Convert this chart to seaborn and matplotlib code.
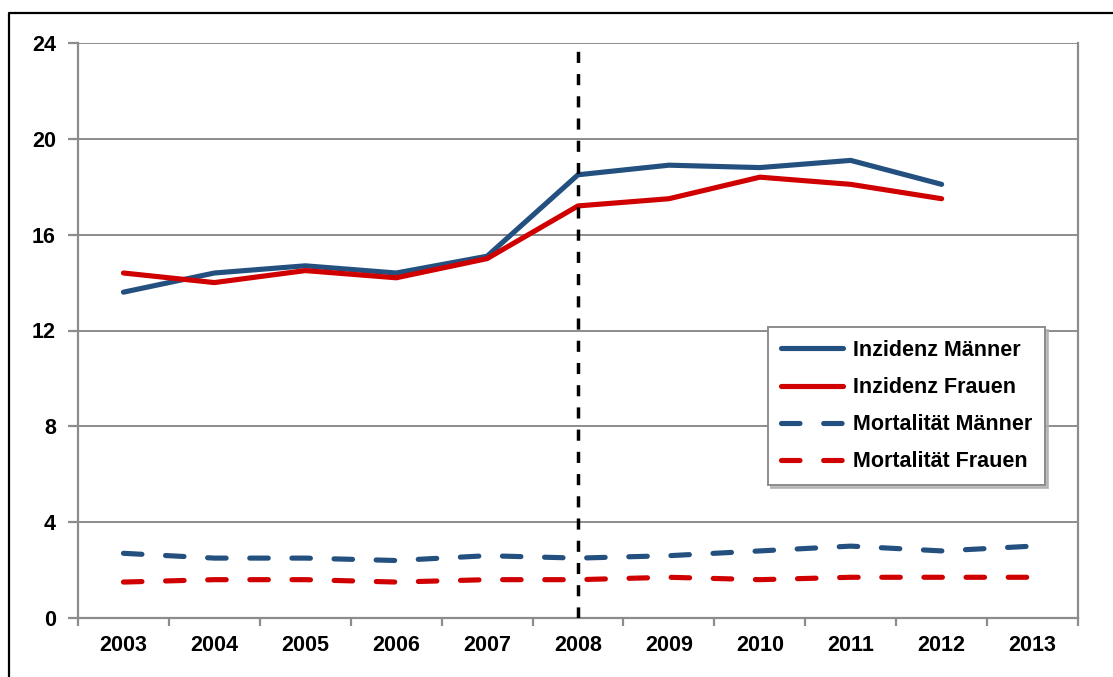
import numpy as np
import pandas as pd
import seaborn as sns
import matplotlib.pyplot as plt
from matplotlib.lines import Line2D

years = ["2003", "2004", "2005", "2006", "2007", "2008", "2009", "2010", "2011", "2012", "2013"]
inzidenz_maenner = [13.6, 14.4, 14.7, 14.4, 15.1, 18.5, 18.9, 18.8, 19.1, 18.1, np.nan]
inzidenz_frauen = [14.4, 14.0, 14.5, 14.2, 15.0, 17.2, 17.5, 18.4, 18.1, 17.5, np.nan]
mortalitaet_maenner = [2.7, 2.5, 2.5, 2.4, 2.6, 2.5, 2.6, 2.8, 3.0, 2.8, 3.0]
mortalitaet_frauen = [1.5, 1.6, 1.6, 1.5, 1.6, 1.6, 1.7, 1.6, 1.7, 1.7, 1.7]
marker_year = "2008"

blue = "#24507f"
red = "#d00000"
grey = "#8c8c8c"

sns.set_theme(style="white")
plt.rcParams["font.family"] = ["Liberation Sans", "DejaVu Sans"]

fig = plt.figure(figsize=(11.13, 6.77), dpi=100)
ax = fig.add_axes([78 / 1113, 1 - 618 / 677, 1000 / 1113, 575 / 677])

# outer chart border: only left and top edges are inside the image
bx, by = 9 / 1113, 1 - 13 / 677
fig.lines.append(Line2D([bx, bx, 1.02], [-0.02, by, by], transform=fig.transFigure,
                        color="black", linewidth=1.6))

x = np.arange(len(years))
series = [
    ("Inzidenz Männer", inzidenz_maenner, blue, "-"),
    ("Inzidenz Frauen", inzidenz_frauen, red, "-"),
    ("Mortalität Männer", mortalitaet_maenner, blue, (0, (3.6, 4.6))),
    ("Mortalität Frauen", mortalitaet_frauen, red, (0, (3.6, 4.6))),
]
for label, vals, color, ls in series:
    df = pd.DataFrame({"x": x, "y": vals}).dropna()
    sns.lineplot(data=df, x="x", y="y", ax=ax, color=color, linewidth=3.7,
                 label=label, linestyle=ls, solid_capstyle="round",
                 dash_capstyle="round", solid_joinstyle="round", zorder=3)

ax.axvline(years.index(marker_year), color="black", linewidth=2.5,
           linestyle=(0, (3.2, 3.2)), zorder=4)

ax.set_xlim(-0.5, len(years) - 0.5)
ax.set_ylim(0, 24)
ax.set_yticks(np.arange(0, 25, 4))
ax.set_xticks(x)
ax.set_xticklabels(years)
ax.set_xticks(np.arange(-0.5, len(years), 1), minor=True)
ax.set_xlabel("")
ax.set_ylabel("")

ax.yaxis.grid(True, color=grey, linewidth=1.4)
ax.set_axisbelow(True)
for side in ["left", "right", "bottom"]:
    ax.spines[side].set_color(grey)
    ax.spines[side].set_linewidth(1.6)
ax.spines["top"].set_visible(False)

ax.tick_params(axis="x", which="major", length=0, pad=12,
               labelsize=15.5, labelcolor="black")
ax.tick_params(axis="x", which="minor", bottom=True, length=6,
               width=1.6, color=grey, direction="out")
ax.tick_params(axis="y", which="major", left=True, length=7, width=1.6,
               color=grey, direction="out", pad=9, labelsize=15.5,
               labelcolor="black")
for t in ax.get_xticklabels() + ax.get_yticklabels():
    t.set_fontweight("bold")

leg = ax.legend(loc="upper left", bbox_to_anchor=(768 / 1113, 1 - 327 / 677),
                bbox_transform=fig.transFigure, borderaxespad=0,
                frameon=True, fancybox=False,
                shadow={"color": "#b0b0b0", "alpha": 0.8}, framealpha=1,
                edgecolor=grey, handlelength=2.9, handletextpad=0.45,
                labelspacing=0.75, borderpad=0.6,
                prop={"weight": "bold", "size": 15.5})
leg.get_frame().set_linewidth(1.4)
for t in leg.get_texts():
    t.set_color("black")

fig.savefig("out.png", dpi=100, facecolor="white")
